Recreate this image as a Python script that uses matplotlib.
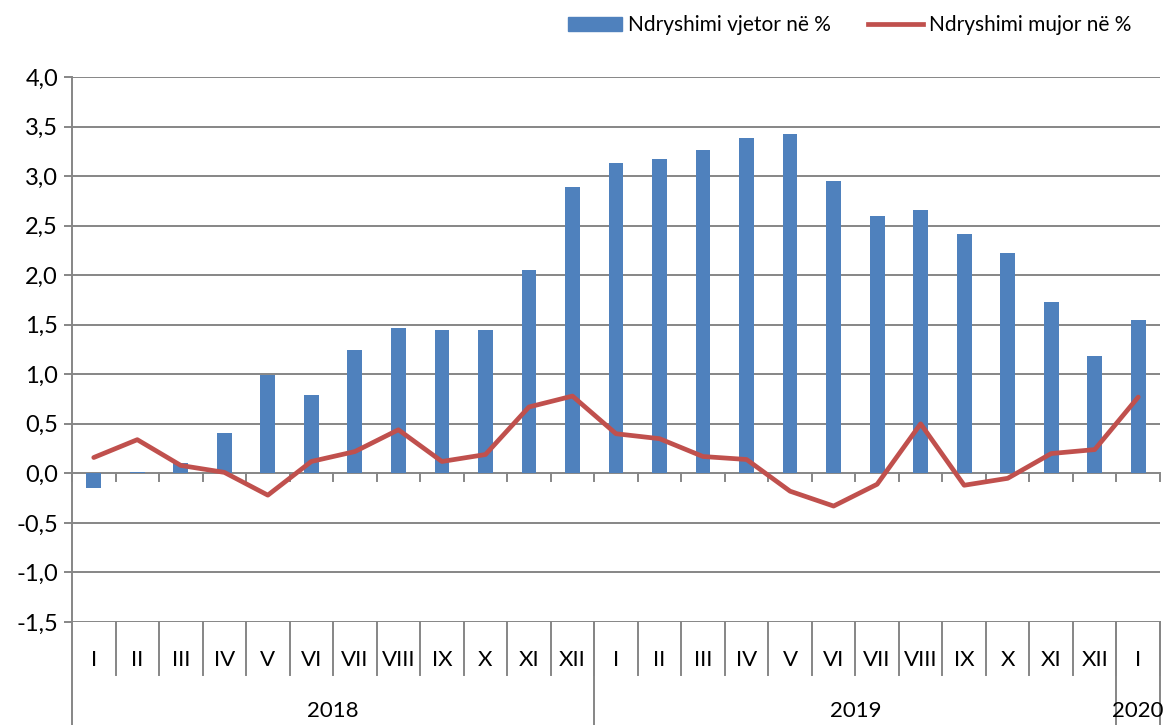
import numpy as np
import matplotlib.pyplot as plt
from matplotlib.patches import Patch
from matplotlib.lines import Line2D

months = ["I", "II", "III", "IV", "V", "VI", "VII", "VIII", "IX", "X", "XI", "XII",
          "I", "II", "III", "IV", "V", "VI", "VII", "VIII", "IX", "X", "XI", "XII",
          "I"]
years = ["2018", "2019", "2020"]
year_counts = [12, 12, 1]

vjetor = [-0.15, 0.01, 0.10, 0.41, 0.99, 0.79, 1.24, 1.47, 1.45, 1.45, 2.05, 2.89,
          3.13, 3.17, 3.26, 3.38, 3.42, 2.95, 2.60, 2.66, 2.42, 2.22, 1.73, 1.18,
          1.55]
mujor = [0.16, 0.34, 0.08, 0.01, -0.22, 0.12, 0.22, 0.44, 0.12, 0.19, 0.67, 0.78,
         0.40, 0.35, 0.17, 0.14, -0.18, -0.33, -0.11, 0.50, -0.12, -0.05, 0.20, 0.24,
         0.77]

blue = "#4F81BD"
red = "#C0504D"
grey = "#868686"

plt.rcParams['font.family'] = ['Lato', 'DejaVu Sans']

fig = plt.figure(figsize=(11.66, 7.25), dpi=100)
ax = fig.add_axes([72 / 1166, 103 / 725, (1160 - 72) / 1166, 545 / 725])

x = np.arange(len(months))
ax.bar(x, vjetor, width=0.34, color=blue, zorder=3)
ax.plot(x, mujor, color=red, lw=3.4, solid_capstyle='round', zorder=4)

ax.set_xlim(-0.5, len(months) - 0.5)
ax.set_ylim(-1.5, 4.0)
yt = np.arange(-1.5, 4.01, 0.5)
ax.set_yticks(yt)
ax.set_yticklabels([("%.1f" % v).replace(".", ",") for v in yt], fontsize=17)
for v in yt:
    ax.axhline(v, color=grey, lw=1.4, zorder=1)
ax.tick_params(axis='y', length=6, width=1.4, color=grey, pad=4)
ax.set_xticks([])
for s in ax.spines.values():
    s.set_visible(False)

tr = ax.get_xaxis_transform()
month_bot = -53 / 545
year_bot = -103 / 545

# vertical axis line, down through the category table
ax.plot([-0.5, -0.5], [1, year_bot], transform=tr, color=grey, lw=1.4, clip_on=False, zorder=5)

# small ticks on the zero line
for b in np.arange(-0.5, len(months), 1.0):
    ax.plot([b, b], [0, -0.08], color=grey, lw=1.4, clip_on=False, zorder=2)

# month separators and labels
for b in np.arange(0.5, len(months), 1.0):
    ax.plot([b, b], [0, month_bot], transform=tr, color=grey, lw=1.4, clip_on=False)
for i, m in enumerate(months):
    ax.text(i, -38 / 545, m, transform=tr, ha='center', va='center', fontsize=16)

# year separators and labels
start = 0
for yname, n in zip(years, year_counts):
    end = start + n
    ax.plot([end - 0.5, end - 0.5], [0, year_bot], transform=tr, color=grey, lw=1.4, clip_on=False)
    ax.text((start + end - 1) / 2, -89 / 545, yname, transform=tr, ha='center', va='center', fontsize=16)
    start = end

handles = [Patch(color=blue, label="Ndryshimi vjetor në %"),
           Line2D([0], [0], color=red, lw=3.4, label="Ndryshimi mujor në %")]
fig.legend(handles=handles, loc='upper right', bbox_to_anchor=(1150 / 1166, 1.005), ncol=2,
           frameon=False, fontsize=15, handlelength=2.6, handletextpad=0.3, columnspacing=1.8)

fig.savefig("out.png", dpi=100)
